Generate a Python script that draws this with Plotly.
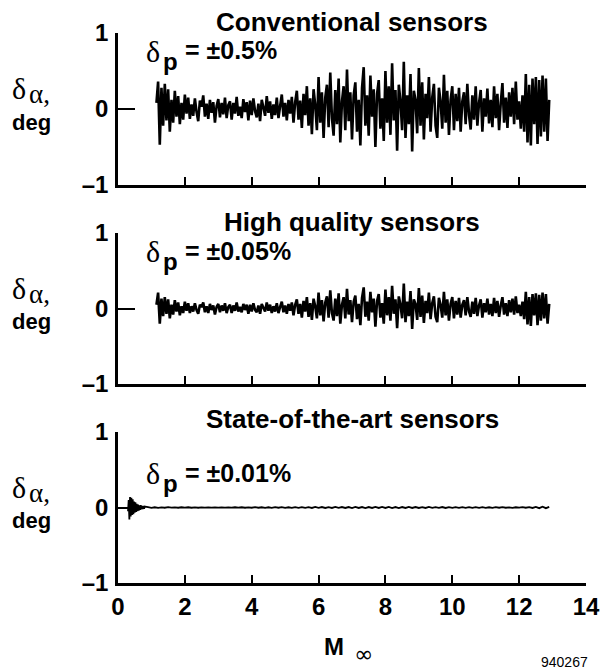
import numpy as np
import plotly.graph_objects as go

# ---------------- data ----------------
panel_titles = ["Conventional sensors", "High quality sensors", "State-of-the-art sensors"]
dp_labels = ["= \u00b10.5%", "= \u00b10.05%", "= \u00b10.01%"]
x_ticks = [0, 2, 4, 6, 8, 10, 12, 14]
y_ticks = [-1, 0, 1]
y_ticktext = ["\u20131", "0", "1"]

# Conventional sensors: samples every 0.05 in Mach, starting at M = 1.15
conv_start, conv_step = 1.15, 0.05
conv_a = [0.08, 0.36, -0.47, 0.28, -0.22, 0.33, -0.15, 0.26, -0.30, 0.12, -0.18, 0.24, -0.10, 0.17, -0.20, 0.08, -0.14, 0.19, -0.06, 0.15]
conv_b = [-0.13, 0.06, -0.09, 0.14, -0.04, -0.16, 0.11, 0.03, 0.18, -0.10, 0.07, -0.13, 0.12, -0.05, 0.09, -0.18, 0.04, 0.13, -0.11, 0.08]
conv_c = [-0.07, 0.15, -0.12, 0.05, 0.10, -0.14, 0.08, -0.06, 0.16, -0.09, 0.03, -0.12, 0.13, -0.04, 0.09, -0.15, 0.11, -0.08, 0.14, -0.03]
conv_d = [-0.11, 0.07, -0.16, 0.12, 0.02, -0.09, 0.17, -0.05, 0.10, -0.13, 0.06, -0.08, 0.15, -0.12, 0.04, 0.19, -0.10, 0.08, -0.15, 0.12]
conv_e = [-0.06, 0.16, -0.18, 0.09, 0.24, -0.14, 0.11, -0.25, 0.20, -0.08, 0.30, -0.22, 0.14, -0.33, 0.26, 0.05, -0.28, 0.42, -0.18, 0.22]
conv_f = [-0.38, 0.15, 0.32, -0.24, 0.48, -0.12, -0.35, 0.25, -0.20, 0.40, -0.44, 0.10, 0.30, -0.28, 0.52, -0.16, 0.22, -0.40, 0.18, 0.35]
conv_g = [-0.30, 0.12, -0.48, 0.28, 0.55, -0.22, 0.18, -0.35, 0.44, -0.10, 0.26, -0.50, 0.20, 0.38, -0.26, 0.14, -0.42, 0.50, -0.18, 0.30]
conv_h = [-0.34, 0.60, -0.15, 0.25, -0.55, 0.32, 0.10, -0.28, 0.62, -0.38, 0.18, -0.20, 0.46, -0.56, 0.24, 0.12, -0.32, 0.54, -0.22, 0.35]
conv_i = [-0.40, 0.20, -0.12, 0.42, -0.30, 0.15, 0.33, -0.22, -0.38, 0.28, 0.10, -0.26, 0.45, -0.18, 0.24, -0.34, 0.12, 0.30, -0.28, 0.20]
conv_j = [-0.16, 0.28, -0.30, 0.10, 0.22, -0.20, 0.33, -0.08, -0.27, 0.18, -0.14, 0.30, -0.22, 0.08, 0.25, -0.30, 0.14, -0.10, 0.27, -0.19]
conv_k = [0.12, -0.24, 0.30, -0.12, 0.20, -0.28, 0.08, 0.34, -0.18, 0.15, -0.25, 0.22, -0.10, 0.28, -0.20, 0.36, -0.14, 0.10, -0.26, 0.18]
conv_l = [-0.30, 0.46, -0.44, 0.32, -0.48, 0.40, -0.20, 0.42, -0.46, 0.38, -0.36, 0.44, -0.30, 0.40, -0.42, 0.12]

# High quality sensors: same sampling
hq_start, hq_step = 1.15, 0.05
hq_a = [0.05, 0.21, -0.20, 0.13, -0.10, 0.15, -0.07, 0.12, -0.13, 0.05, -0.08, 0.11, -0.04, 0.08, -0.09, 0.03, -0.06, 0.09, -0.03, 0.07]
hq_b = [-0.06, 0.03, -0.04, 0.07, -0.02, -0.07, 0.05, 0.02, 0.08, -0.05, 0.03, -0.06, 0.06, -0.02, 0.04, -0.08, 0.02, 0.06, -0.05, 0.04]
hq_c = [-0.03, 0.07, -0.06, 0.02, 0.05, -0.06, 0.04, -0.03, 0.08, -0.04, 0.02, -0.05, 0.06, -0.02, 0.05, -0.07, 0.05, -0.04, 0.07, -0.02]
hq_d = [-0.05, 0.04, -0.07, 0.06, 0.01, -0.04, 0.08, -0.03, 0.05, -0.06, 0.03, -0.04, 0.07, -0.06, 0.02, 0.09, -0.05, 0.04, -0.07, 0.06]
hq_e = [-0.03, 0.08, -0.09, 0.05, 0.12, -0.07, 0.06, -0.12, 0.10, -0.04, 0.15, -0.11, 0.07, -0.15, 0.13, 0.03, -0.13, 0.21, -0.09, 0.11]
hq_f = [-0.17, 0.08, 0.16, -0.12, 0.24, -0.06, -0.16, 0.13, -0.10, 0.20, -0.20, 0.05, 0.15, -0.13, 0.26, -0.08, 0.11, -0.18, 0.09, 0.17]
hq_g = [-0.14, 0.06, -0.22, 0.14, 0.28, -0.11, 0.09, -0.16, 0.22, -0.05, 0.13, -0.24, 0.10, 0.19, -0.12, 0.07, -0.20, 0.25, -0.09, 0.15]
hq_h = [-0.16, 0.30, -0.07, 0.12, -0.26, 0.16, 0.05, -0.13, 0.33, -0.18, 0.09, -0.10, 0.23, -0.27, 0.12, 0.06, -0.15, 0.27, -0.11, 0.17]
hq_i = [-0.19, 0.10, -0.06, 0.21, -0.14, 0.07, 0.16, -0.11, -0.18, 0.14, 0.05, -0.12, 0.22, -0.09, 0.12, -0.16, 0.06, 0.15, -0.13, 0.10]
hq_j = [-0.08, 0.14, -0.12, 0.05, 0.11, -0.09, 0.15, -0.04, -0.11, 0.09, -0.07, 0.14, -0.10, 0.04, 0.12, -0.12, 0.07, -0.05, 0.13, -0.08]
hq_k = [0.06, -0.10, 0.14, -0.06, 0.10, -0.11, 0.04, 0.15, -0.08, 0.07, -0.10, 0.11, -0.05, 0.13, -0.08, 0.16, -0.06, 0.05, -0.10, 0.09]
hq_l = [-0.14, 0.22, -0.21, 0.15, -0.23, 0.19, -0.09, 0.20, -0.22, 0.18, -0.16, 0.21, -0.13, 0.19, -0.20, 0.06]

# State-of-the-art sensors: start-up transient (step 0.02 from M = 0.30), then flat part (step 0.1 from M = 0.90)
sota_burst_start, sota_burst_step = 0.30, 0.02
sota_burst = [-0.05, 0.10, -0.16, 0.14, -0.12, 0.13, -0.10, 0.11, -0.09, 0.08, -0.07, 0.07, -0.06, 0.05, -0.05, 0.04,
              -0.04, 0.03, -0.03, 0.03, -0.025, 0.02, -0.02, 0.02, -0.015, 0.012]
sota_flat_start, sota_flat_step = 0.90, 0.10
sota_flat_1 = [0.006, -0.004, 0.003, -0.005, 0.002, -0.003, 0.004, -0.002, 0.002, -0.003, 0.003, -0.002, 0.003, -0.003, 0.002, -0.003, 0.002, -0.001, 0.002, -0.002]
sota_flat_2 = [0.001, -0.002, 0.001, -0.001, 0.001, -0.002, 0.003, -0.002, 0.003, -0.003, 0.002, -0.003, 0.004, -0.003, 0.003, -0.004, 0.003, -0.004, 0.005, -0.003]
sota_flat_3 = [0.004, -0.005, 0.003, -0.006, 0.005, -0.004, 0.006, -0.005, 0.004, -0.006, 0.007, -0.004, 0.006, -0.006, 0.005, -0.006, 0.007, -0.005, 0.006, -0.006]
sota_flat_4 = [0.006, -0.007, 0.008, -0.006, 0.006, -0.007, 0.006, -0.006, 0.008, -0.006, 0.007, -0.006, 0.008, -0.008, 0.006, -0.007, 0.006, -0.006, 0.008, -0.006]
sota_flat_5 = [0.006, -0.006, 0.005, -0.006, 0.007, -0.005, 0.006, -0.004, 0.006, -0.006, 0.004, -0.005, 0.006, -0.004, 0.005, -0.004, 0.004, -0.005, 0.004, -0.004]
sota_flat_6 = [0.004, -0.004, 0.003, -0.004, 0.004, -0.003, 0.004, -0.003, 0.002, -0.004, 0.003, -0.002, 0.004, -0.003, 0.004, -0.006, 0.008, -0.009, 0.010, -0.009, 0.007]

# ---------------- assemble series ----------------
conv_y = conv_a + conv_b + conv_c + conv_d + conv_e + conv_f + conv_g + conv_h + conv_i + conv_j + conv_k + conv_l
hq_y = hq_a + hq_b + hq_c + hq_d + hq_e + hq_f + hq_g + hq_h + hq_i + hq_j + hq_k + hq_l
conv_x = np.round(conv_start + conv_step * np.arange(len(conv_y)), 4)
hq_x = np.round(hq_start + hq_step * np.arange(len(hq_y)), 4)
sota_fl = sota_flat_1 + sota_flat_2 + sota_flat_3 + sota_flat_4 + sota_flat_5 + sota_flat_6
sota_x = list(np.round(sota_burst_start + sota_burst_step * np.arange(len(sota_burst)), 4)) + \
         list(np.round(sota_flat_start + sota_flat_step * np.arange(len(sota_fl)), 4))
sota_y = sota_burst + sota_fl

W, H = 606, 669
def px(x):
    return x / W
def py(y):
    return 1 - y / H

# panel pixel extents (top, bottom)
panels = [(33, 185), (233, 384), (432, 583)]
x_left, x_right = 118, 586

fig = go.Figure()
series = [(conv_x, conv_y, 2.6), (hq_x, hq_y, 2.6), (sota_x, sota_y, 1.8)]
for i, (xs, ys, lw) in enumerate(series):
    fig.add_trace(go.Scatter(x=xs, y=ys, mode="lines",
                             line=dict(color="black", width=lw, simplify=False),
                             xaxis="x" if i == 0 else f"x{i+1}", yaxis="y" if i == 0 else f"y{i+1}",
                             showlegend=False, hoverinfo="skip"))

tick_font = dict(family="Liberation Sans, Arial, sans-serif", size=24, color="black", weight="bold")
layout = dict(width=W, height=H, margin=dict(l=0, r=0, t=0, b=0, autoexpand=False),
              paper_bgcolor="white", plot_bgcolor="white", showlegend=False)
for i, (top, bot) in enumerate(panels):
    sx = "" if i == 0 else str(i + 1)
    layout["xaxis" + sx] = dict(domain=[px(x_left), px(x_right)], range=[0, 14], anchor="y" + sx,
                                showline=True, linecolor="black", linewidth=2.5, automargin=False,
                                ticks="inside", ticklen=8, tickwidth=1.5, tickcolor="black",
                                tickvals=x_ticks, showticklabels=(i == 2), tickfont=tick_font,
                                showgrid=False, zeroline=False, fixedrange=True)
    layout["yaxis" + sx] = dict(domain=[py(bot), py(top)], range=[-1, 1], anchor="x" + sx,
                                showline=True, linecolor="black", linewidth=2.5, automargin=False,
                                ticks="inside", ticklen=17, tickwidth=1.5, tickcolor="black",
                                tickvals=y_ticks, ticktext=y_ticktext, tickfont=tick_font,
                                ticklabelstandoff=2,
                                showgrid=False, zeroline=False, fixedrange=True)
fig.update_layout(**layout)

ann = []
def add(text, x, y, size, family="Liberation Sans, Arial, sans-serif", weight="normal",
        xanchor="left", yanchor="middle"):
    ann.append(dict(text=text, x=px(x), y=py(y), xref="paper", yref="paper", showarrow=False,
                    xanchor=xanchor, yanchor=yanchor, borderpad=0,
                    font=dict(family=family, size=size, color="black", weight=weight)))

serif = "Liberation Serif, Times New Roman, serif"
title_y = [21.5, 222, 419]
dp_offset = [0, 200, 422]
for i, (top, bot) in enumerate(panels):
    zero = (top + bot) / 2
    add(panel_titles[i], 352, title_y[i], 26, weight="bold", xanchor="center")
    # delta_p label
    o = dp_offset[i]
    add("\u03b4", 145, 51 + o, 30, family=serif)
    add("p", 162, 61 + o, 24, weight="bold")
    add(dp_labels[i], 184, 50.5 + o, 25, weight="bold")
    # y axis label
    add("\u03b4", 11, zero - 20, 30, family=serif)
    add("\u03b1,", 28, zero - 15, 27, family=serif)
    add("deg", 31.5, zero + 13, 22, weight="bold", xanchor="center")

add("M", 334, 646.5, 24, weight="bold", xanchor="center")
add("\u221e", 363, 654, 23, family="DejaVu Sans, sans-serif", xanchor="center")
add("940267", 564, 662, 14, xanchor="center")
fig.update_layout(annotations=ann)

fig.write_html("out.html")
